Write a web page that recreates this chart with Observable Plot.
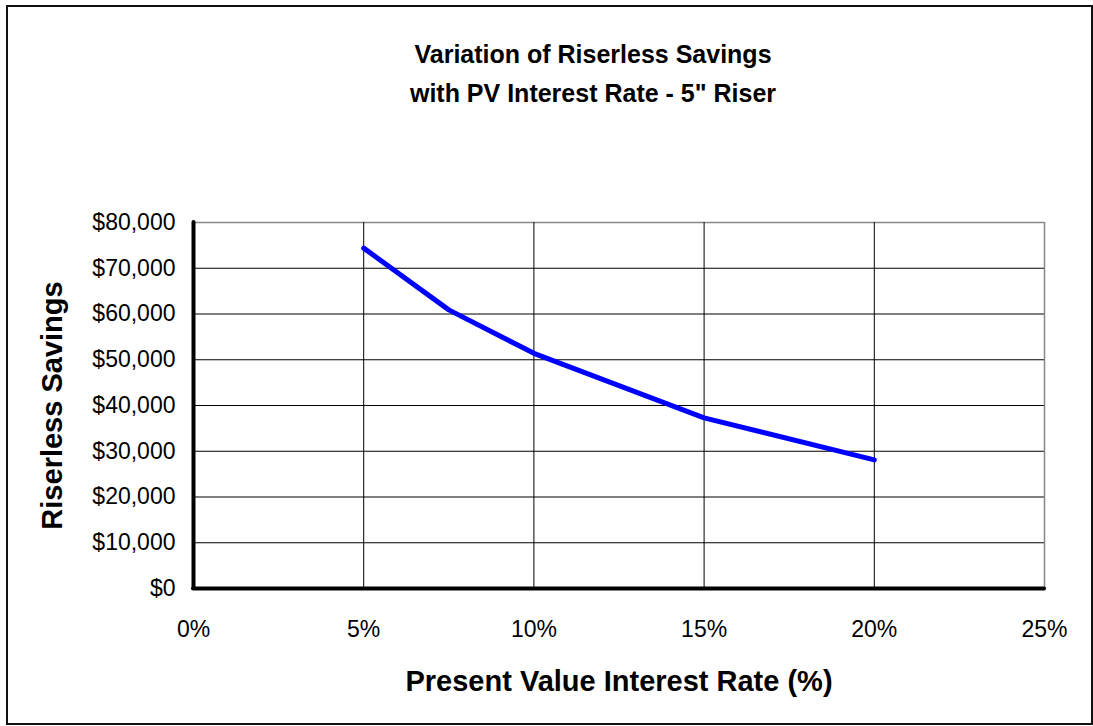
<!DOCTYPE html>
<html>
<head>
<meta charset="utf-8">
<script src="https://cdn.jsdelivr.net/npm/d3@7"></script>
<script src="https://cdn.jsdelivr.net/npm/@observablehq/plot@0.6"></script>
<style>
  html, body { margin: 0; padding: 0; background: #fff; }
  #wrap { position: relative; width: 1093px; height: 726px; overflow: hidden; }
  #border { position: absolute; left: 6px; top: 5px; width: 1083px; height: 716px; border: 2px solid #111; pointer-events: none; }
</style>
</head>
<body>
<div id="wrap"><div id="border"></div></div>
<script>
// ---- data ----
const rates = [0.05, 0.075, 0.10, 0.15, 0.20];
const savings = [74400, 60900, 51400, 37300, 28100];
const xTicks = [0, 0.05, 0.10, 0.15, 0.20, 0.25];
const yTicks = [0, 10000, 20000, 30000, 40000, 50000, 60000, 70000, 80000];
const titleLines = ["Variation of Riserless Savings", "with PV Interest Rate - 5\" Riser"];
const xTitle = "Present Value Interest Rate (%)";
const yTitle = "Riserless Savings";

const data = rates.map((r, i) => ({rate: r, savings: savings[i]}));
const font = "'Liberation Sans', Arial, Helvetica, sans-serif";

const chart = Plot.plot({
  width: 1093,
  height: 726,
  marginLeft: 193,
  marginRight: 49,
  marginTop: 222,
  marginBottom: 138,
  style: {fontFamily: font, fontSize: "23px", background: "transparent", color: "#000"},
  x: {domain: [0, 0.25], ticks: xTicks, tickFormat: d3.format(".0%"), tickSize: 0, tickPadding: 32, label: null},
  y: {domain: [0, 80000], ticks: yTicks, tickFormat: d => "$" + d3.format(",")(d), tickSize: 0, tickPadding: 18, label: null},
  marks: [
    Plot.ruleY(yTicks.filter(d => d > 0 && d < 80000), {stroke: "#000", strokeWidth: 1}),
    Plot.ruleY(yTicks.filter(d => d === 80000), {stroke: "#888", strokeWidth: 1.5}),
    Plot.ruleX(xTicks.filter(d => d > 0 && d < 0.25), {stroke: "#000", strokeWidth: 1}),
    Plot.ruleX(xTicks.filter(d => d === 0.25), {stroke: "#888", strokeWidth: 1.5}),
    Plot.line(data, {x: "rate", y: "savings", stroke: "#0000ff", strokeWidth: 5, strokeLinecap: "round", strokeLinejoin: "round"}),
    Plot.ruleX([0], {stroke: "#000", strokeWidth: 4, strokeLinecap: "round"}),
    Plot.ruleY([0], {stroke: "#000", strokeWidth: 4, strokeLinecap: "round"}),
    Plot.text([titleLines[0]], {frameAnchor: "top", lineAnchor: "bottom", textAnchor: "middle", dx: -26, dy: -160, fontSize: 25, fontWeight: "bold", fill: "#000"}),
    Plot.text([titleLines[1]], {frameAnchor: "top", lineAnchor: "bottom", textAnchor: "middle", dx: -26, dy: -121, fontSize: 25, fontWeight: "bold", fill: "#000"}),
    Plot.text([xTitle], {frameAnchor: "bottom", lineAnchor: "bottom", textAnchor: "middle", dy: 102, fontSize: 29, fontWeight: "bold", fill: "#000"}),
    Plot.text([yTitle], {frameAnchor: "left", lineAnchor: "bottom", textAnchor: "middle", rotate: -90, dx: -132, fontSize: 29, fontWeight: "bold", fill: "#000"})
  ]
});
document.getElementById("wrap").insertBefore(chart, document.getElementById("border"));
</script>
</body>
</html>
